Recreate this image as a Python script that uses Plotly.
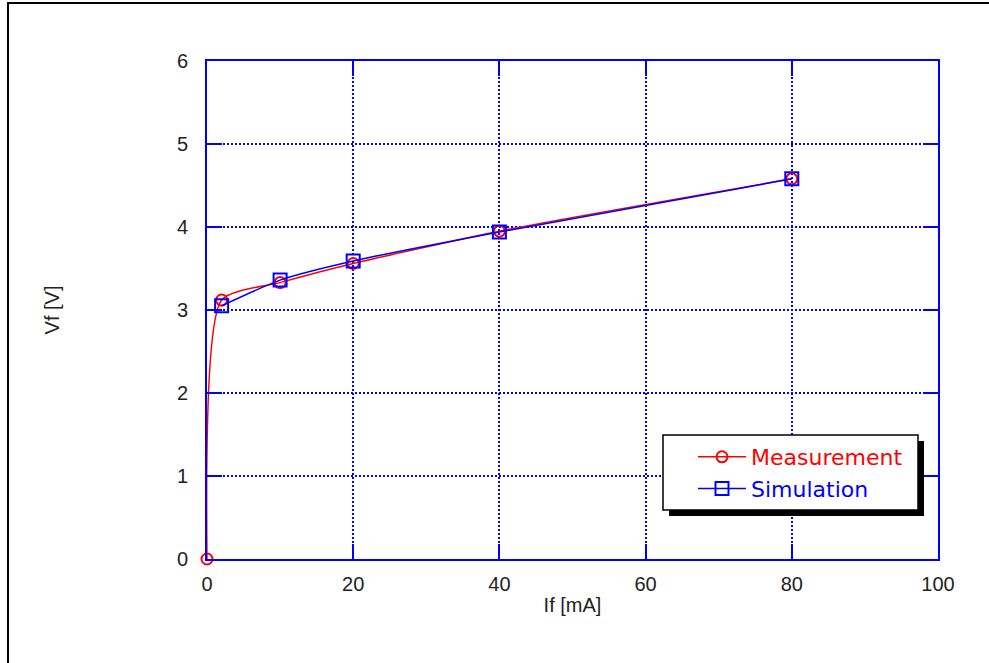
import plotly.graph_objects as go

# Data
meas_if = [0, 2, 10, 20, 40, 80]
meas_vf = [0.0, 3.12, 3.33, 3.56, 3.95, 4.58]
sim_if = [2, 10, 20, 40, 80]
sim_vf = [3.05, 3.36, 3.59, 3.94, 4.58]

W, H = 989, 663
L, R, T, B = 207, 51, 61, 104
PW, PH = W - L - R, H - T - B


def px(x):
    return (x - L) / PW


def py(y):
    return (H - B - y) / PH


fig = go.Figure()
fig.add_trace(go.Scatter(
    x=meas_if, y=meas_vf, mode="lines+markers",
    name='<span style="color:#ff0000">Measurement</span>',
    line=dict(color="#ff0000", width=1.5, shape="spline", smoothing=0.6),
    marker=dict(symbol="circle-open", size=11, color="#ff0000", line=dict(width=2)),
    cliponaxis=False,
))
fig.add_trace(go.Scatter(
    x=sim_if, y=sim_vf, mode="lines+markers",
    name='<span style="color:#0000ff">Simulation</span>',
    line=dict(color="#0000ff", width=1.5, shape="spline", smoothing=0.6),
    marker=dict(symbol="square-open", size=13, color="#0000ff", line=dict(width=2)),
    cliponaxis=False,
))

tickfont = dict(family="Liberation Sans, Arial", size=20, color="#222222")
axis_common = dict(
    showline=True, linecolor="#0000ff", linewidth=2, mirror="ticks",
    showgrid=True, gridcolor="#0000ff", gridwidth=2, griddash="2px,2px",
    ticks="inside", ticklen=15, tickwidth=1.5, tickcolor="#0000ff",
    zeroline=False, tickfont=tickfont,
)

fig.update_xaxes(range=[0, 100], dtick=20, ticklabelstandoff=6,
                 title=dict(text="If [mA]", font=tickfont, standoff=4),
                 **axis_common)
fig.update_yaxes(range=[0, 6], dtick=1, ticklabelstandoff=13,
                 title=dict(text="Vf [V]", font=tickfont, standoff=112),
                 **axis_common)

# legend box with shadow
lx0, ly0, lx1, ly1 = 663, 435, 918, 510
sh = 6
shapes = [
    dict(type="rect", xref="paper", yref="paper",
         x0=px(lx0 + sh), x1=px(lx1 + sh), y0=py(ly1 + sh), y1=py(ly0 + sh),
         fillcolor="black", line=dict(width=0), layer="above"),
    dict(type="rect", xref="paper", yref="paper",
         x0=px(lx0), x1=px(lx1), y0=py(ly1), y1=py(ly0),
         fillcolor="white", line=dict(color="black", width=1.5), layer="above"),
    # window border
    dict(type="line", xref="paper", yref="paper",
         x0=px(8), x1=px(8), y0=py(2), y1=py(H + 5),
         line=dict(color="black", width=2)),
    dict(type="line", xref="paper", yref="paper",
         x0=px(7), x1=px(W + 5), y0=py(3), y1=py(3),
         line=dict(color="black", width=2)),
]

fig.update_layout(
    width=W, height=H,
    margin=dict(l=L, r=R, t=T, b=B),
    paper_bgcolor="white", plot_bgcolor="white",
    showlegend=True,
    legend=dict(
        x=px(693), y=py(436), xanchor="left", yanchor="top",
        bgcolor="rgba(0,0,0,0)", borderwidth=0,
        font=dict(family="DejaVu Sans", size=22),
        itemwidth=48, tracegroupgap=0,
    ),
    shapes=shapes,
)

fig.write_html(
    "out.html",
    config={"displayModeBar": False},
    post_script="document.body.style.margin='0';document.body.style.overflow='hidden';",
)
